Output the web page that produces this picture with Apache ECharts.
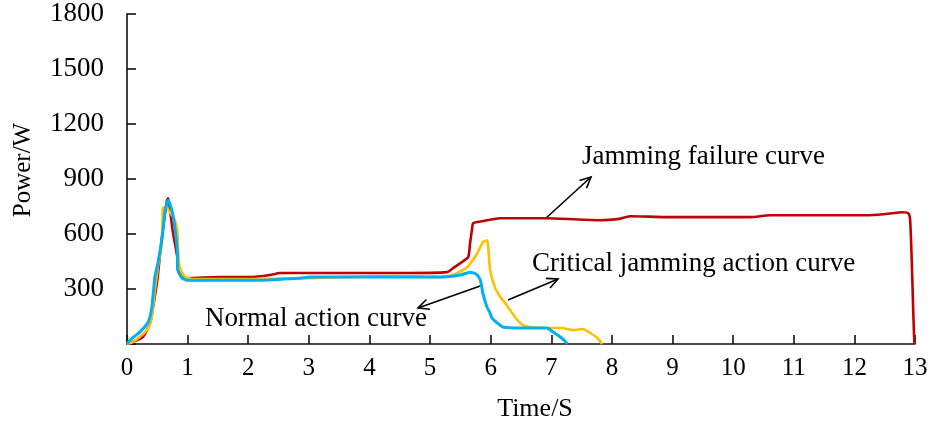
<!DOCTYPE html>
<html>
<head>
<meta charset="utf-8">
<script src="https://cdn.jsdelivr.net/npm/echarts@6/dist/echarts.min.js"></script>
<style>
  html, body { margin: 0; padding: 0; background: #fff; }
  #chart { width: 930px; height: 423px; }
</style>
</head>
<body>
<div id="chart"></div>
<script>
// values (time in s, power in W)
const failureTime  = [0, 0.05, 0.26, 0.38, 0.43, 0.50, 0.54, 0.59, 0.66, 0.68, 0.71, 0.76, 0.83, 0.84, 0.91, 0.99, 1.53, 2.03, 2.36, 2.52, 3.51, 4.50, 5.28, 5.38, 5.50, 5.54, 5.63, 5.66, 5.69, 5.71, 5.79, 6.16, 6.93, 7.81, 8.09, 8.30, 8.91, 10.28, 10.61, 12.21, 12.48, 12.81, 12.89, 12.92, 12.95, 12.97, 12.99];
const failurePower = [0, 5, 38, 114, 201, 348, 474, 621, 784, 795, 730, 604, 474, 403, 365, 359, 365, 365, 376, 387, 387, 387, 392, 414, 441, 450, 474, 550, 621, 659, 666, 686, 686, 675, 681, 697, 692, 692, 702, 702, 708, 719, 713, 675, 419, 185, 0];

const criticalTime  = [0, 0.10, 0.33, 0.41, 0.46, 0.51, 0.58, 0.59, 0.64, 0.71, 0.79, 0.83, 0.84, 0.87, 0.96, 1.12, 2.03, 2.85, 4.50, 5.17, 5.38, 5.61, 5.78, 5.87, 5.94, 5.96, 5.99, 6.07, 6.16, 6.24, 6.32, 6.44, 6.53, 6.65, 6.93, 7.15, 7.36, 7.52, 7.64, 7.76, 7.84];
const criticalPower = [0, 11, 76, 147, 294, 419, 566, 740, 746, 719, 675, 621, 528, 419, 365, 354, 354, 359, 370, 365, 376, 419, 495, 555, 566, 528, 403, 310, 256, 223, 185, 131, 103, 93, 87, 87, 76, 82, 60, 33, 0];

const normalTime  = [0, 0.05, 0.21, 0.35, 0.41, 0.46, 0.51, 0.58, 0.63, 0.68, 0.74, 0.78, 0.83, 0.84, 0.91, 0.99, 1.53, 2.19, 2.85, 3.02, 4.50, 5.17, 5.50, 5.66, 5.76, 5.83, 5.87, 5.94, 5.99, 6.02, 6.11, 6.20, 6.49, 6.93, 7.03, 7.15, 7.24, 7.26];
const normalPower = [0, 22, 65, 120, 201, 365, 441, 583, 730, 784, 730, 659, 512, 403, 359, 348, 348, 348, 359, 365, 365, 365, 376, 392, 381, 348, 278, 201, 169, 142, 114, 93, 87, 87, 65, 38, 11, 0];

const xTicks = [0, 1, 2, 3, 4, 5, 6, 7, 8, 9, 10, 11, 12, 13];
const yTicks = [0, 300, 600, 900, 1200, 1500, 1800];

const zip = (a, b) => a.map((v, i) => [v, b[i]]);
const serif = '"Liberation Serif", "Times New Roman", serif';

const chart = echarts.init(document.getElementById('chart'));

function arrow(x1, y1, x2, y2) {
  const ang = Math.atan2(y2 - y1, x2 - x1);
  const len = 12, spread = 0.45;
  return [
    { type: 'line', shape: { x1, y1, x2, y2 }, style: { stroke: '#000', lineWidth: 1.6 } },
    { type: 'polyline', shape: { points: [
        [x2 - len * Math.cos(ang - spread), y2 - len * Math.sin(ang - spread)],
        [x2, y2],
        [x2 - len * Math.cos(ang + spread), y2 - len * Math.sin(ang + spread)]
      ] }, style: { stroke: '#000', lineWidth: 1.6, fill: null } }
  ];
}

function label(text, x, y) {
  return { type: 'text', x, y, style: { text, fill: '#000', font: '27px ' + serif, textVerticalAlign: 'middle' } };
}

chart.setOption({
  animation: false,
  backgroundColor: '#fff',
  grid: { left: 127, right: 15, top: 14, bottom: 79, containLabel: false, outerBoundsMode: 'none' },
  xAxis: {
    type: 'value',
    min: xTicks[0],
    max: xTicks[xTicks.length - 1],
    interval: 1,
    name: 'Time/S',
    nameLocation: 'middle',
    nameGap: 52,
    nameTextStyle: { fontFamily: serif, fontSize: 26, color: '#000', padding: [0, 0, 0, 28] },
    axisLine: { lineStyle: { color: '#111', width: 1.6 } },
    axisTick: { inside: true, length: 9, lineStyle: { color: '#111', width: 1.6 } },
    axisLabel: { fontFamily: serif, fontSize: 25, color: '#000', margin: 12 },
    splitLine: { show: false }
  },
  yAxis: {
    type: 'value',
    min: yTicks[0],
    max: yTicks[yTicks.length - 1],
    interval: 300,
    name: 'Power/W',
    nameLocation: 'middle',
    nameRotate: 90,
    nameGap: 91,
    nameTextStyle: { fontFamily: serif, fontSize: 25, color: '#000', padding: [0, 0, 0, 18] },
    axisLine: { show: true, lineStyle: { color: '#111', width: 1.6 } },
    axisTick: { show: true, inside: true, length: 9, lineStyle: { color: '#111', width: 1.6 } },
    axisLabel: { fontFamily: serif, fontSize: 27, color: '#000', margin: 23,
      formatter: v => (v === 0 ? '' : v) },
    splitLine: { show: false }
  },
  series: [
    { name: 'Jamming failure curve', type: 'line', data: zip(failureTime, failurePower),
      smooth: 0.2, symbol: 'none', lineStyle: { color: '#C00000', width: 2.6 } },
    { name: 'Critical jamming action curve', type: 'line', data: zip(criticalTime, criticalPower),
      smooth: 0.2, symbol: 'none', lineStyle: { color: '#FFC000', width: 2.6 } },
    { name: 'Normal action curve', type: 'line', data: zip(normalTime, normalPower),
      smooth: 0.2, symbol: 'none', lineStyle: { color: '#00B0F0', width: 3 } }
  ],
  graphic: [
    label('Jamming failure curve', 582, 157),
    label('Critical jamming action curve', 532, 264),
    label('Normal action curve', 205, 319),
    ...arrow(545, 219, 591, 177),
    ...arrow(508, 300, 558, 279),
    ...arrow(483, 285, 418, 308)
  ]
});
</script>
</body>
</html>
